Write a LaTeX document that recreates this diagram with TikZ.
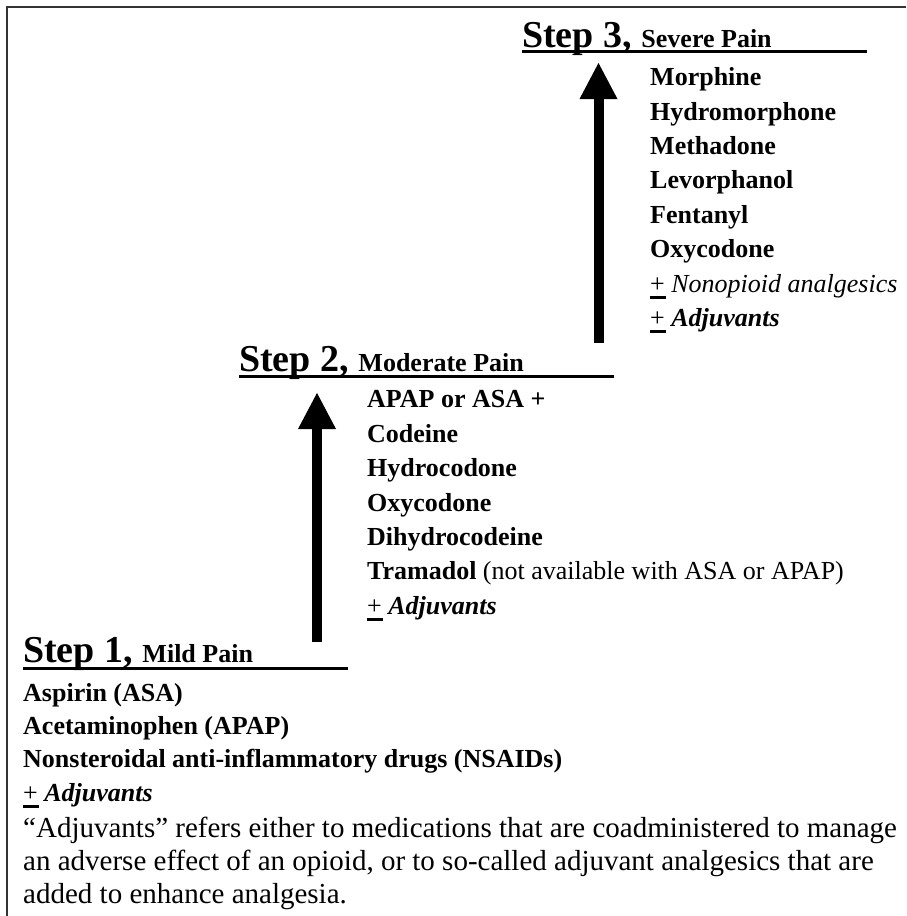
\documentclass[tikz,border=0pt]{standalone}
\usepackage{fontspec}
\setmainfont{Liberation Serif}
\usepackage{tikz}
\usetikzlibrary{arrows.meta}
\newcommand{\ulplus}{{\mdseries\makebox[0pt][l]{\rule[-6.5pt]{0.62em}{3pt}}+}\ }
\newcommand{\stephead}[2]{{\fontsize{38}{40}\selectfont Step #1, }#2}

\begin{document}
\begin{tikzpicture}[x=1pt,y=-1pt,
    heading/.style={anchor=base west,inner sep=0pt,
      font=\fontsize{26}{30}\selectfont\bfseries},
    druglist/.style={anchor=north west,inner sep=0pt,align=left,
      font=\fontsize{26}{34.4}\selectfont\bfseries},
    note/.style={anchor=north west,inner sep=0pt,align=left,
      font=\fontsize{29}{33.2}\selectfont},
    underbar/.style={line width=3pt},
    arrow/.style={-{Triangle[width=38pt,length=36pt,line width=0pt]},line width=10pt},
    frame/.style={line width=1.5pt,draw=black!80}
  ]
    \useasboundingbox (0,0) rectangle (906,916);
    \draw[frame] (7,916) -- (7,7) -- (906,7);

    \node[heading] (step3) at (522,47) {\stephead{3}{Severe Pain}};
    \node[heading] (step2) at (239,371) {\stephead{2}{Moderate Pain}};
    \node[heading] (step1) at (23,662) {\stephead{1}{Mild Pain}};
    \draw[underbar] (step3.base west) ++(0,4.5) -- ++(345,0);
    \draw[underbar] (step2.base west) ++(0,5.5) -- ++(375,0);
    \draw[underbar] (step1.base west) ++(0,6) -- ++(325,0);

    \node[druglist] (severe) at (650,67.4) {Morphine\\Hydromorphone\\Methadone\\
      Levorphanol\\Fentanyl\\Oxycodone\\\ulplus\textit{\mdseries Nonopioid analgesics}\\
      \ulplus\textit{Adjuvants}};
    \node[druglist] (moderate) at (367,390.4) {APAP or ASA +\\Codeine\\Hydrocodone\\
      Oxycodone\\Dihydrocodeine\\Tramadol {\mdseries(not available with ASA or APAP)}\\
      \ulplus\textit{Adjuvants}};
    \node[druglist,font=\fontsize{26}{33.3}\selectfont\bfseries] (mild) at (23,683) {Aspirin (ASA)\\
      Acetaminophen (APAP)\\Nonsteroidal anti-inflammatory drugs (NSAIDs)\\
      \ulplus\textit{Adjuvants}};
    \node[note] (adjnote) at (23,816.4) {“Adjuvants” refers either to medications that are coadministered to manage\\
      an adverse effect of an opioid, or to so-called adjuvant analgesics that are\\
      added to enhance analgesia.};

    \coordinate (tail2) at (317,642);
    \coordinate (tip2) at (317,393);
    \coordinate (tail3) at (598.5,343);
    \coordinate (tip3) at (598.5,63);
    \draw[arrow] (tail2) -- (tip2);
    \draw[arrow] (tail3) -- (tip3);
  \end{tikzpicture}
\end{document}
